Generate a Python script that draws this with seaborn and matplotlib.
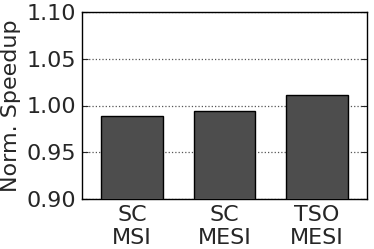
import matplotlib
matplotlib.use("Agg")
import matplotlib.pyplot as plt
import seaborn as sns
import pandas as pd

# data
configs = ["SC\nMSI", "SC\nMESI", "TSO\nMESI"]
speedup = [0.989, 0.9945, 1.011]
yticks = [0.90, 0.95, 1.00, 1.05, 1.10]

df = pd.DataFrame({"config": configs, "speedup": speedup})

sns.set_style("white")
plt.rcParams["font.family"] = ["DejaVu Sans"]

fig = plt.figure(figsize=(3.74, 2.49), dpi=100)
ax = fig.add_axes([82 / 374, 50 / 249, 285 / 374, 187 / 249])

sns.barplot(data=df, x="config", y="speedup", color="#4d4d4d", saturation=1,
            edgecolor="black", linewidth=1, width=0.67, ax=ax, zorder=3)

ax.set_ylim(0.90, 1.10)
ax.set_xlim(-0.54, 2.54)
ax.set_yticks(yticks)
ax.set_yticklabels([f"{t:.2f}" for t in yticks], fontsize=16)
ax.tick_params(axis="x", labelsize=16, length=0, pad=4)
ax.tick_params(axis="y", direction="in", length=4, left=True, right=True, pad=4)
ax.yaxis.grid(True, linestyle=":", color="#555555", linewidth=0.9, zorder=0)
ax.set_axisbelow(True)
ax.set_xlabel("")
ax.set_ylabel("Norm. Speedup", fontsize=16, labelpad=4)
for s in ax.spines.values():
    s.set_color("black")
    s.set_linewidth(1)

fig.savefig("out.png", dpi=100)
